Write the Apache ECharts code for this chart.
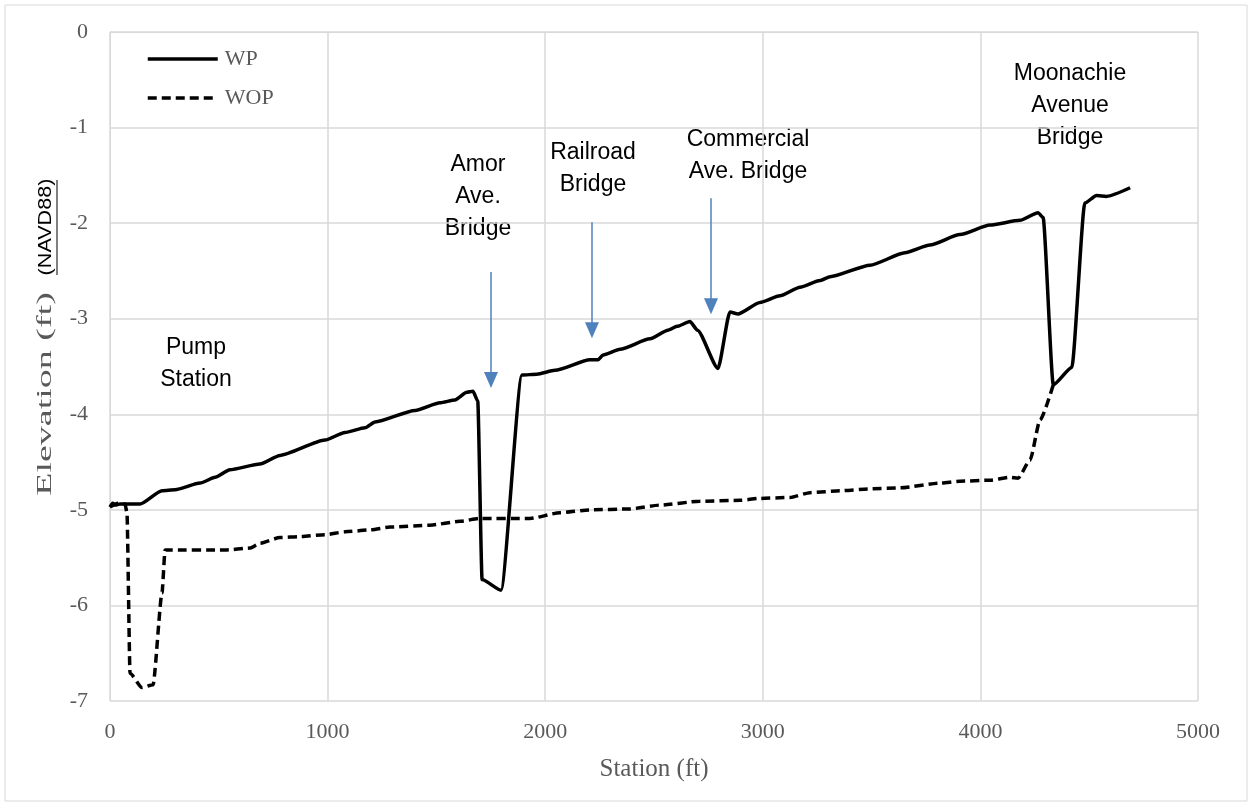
<!DOCTYPE html>
<html><head><meta charset="utf-8">
<script src="https://cdn.jsdelivr.net/npm/echarts@6/dist/echarts.min.js"></script>
<style>html,body{margin:0;padding:0;background:#fff}#c{width:1252px;height:806px}</style>
</head><body><div id="c"></div>
<script>
const wpStation = [0,12,25,45,138,239,299,414,483,551,689,781,988,1080,1172,1218,1402,1517,1585,1640,1668,1690,1710,1797,1893,1962,2045,2206,2243,2266,2344,2482,2564,2606,2665,2700,2794,2849,2886,2987,3079,3171,3263,3309,3493,3653,3768,3906,4044,4182,4265,4288,4335,4420,4480,4534,4580,4688];
const wpElev    = [-4.97,-4.93,-4.95,-4.94,-4.94,-4.80,-4.79,-4.72,-4.66,-4.58,-4.52,-4.43,-4.27,-4.19,-4.14,-4.08,-3.96,-3.88,-3.85,-3.77,-3.76,-3.86,-5.73,-5.84,-3.59,-3.58,-3.54,-3.43,-3.43,-3.38,-3.32,-3.21,-3.12,-3.08,-3.03,-3.12,-3.52,-2.93,-2.95,-2.83,-2.76,-2.67,-2.60,-2.56,-2.44,-2.31,-2.23,-2.12,-2.02,-1.97,-1.89,-1.94,-3.69,-3.51,-1.79,-1.71,-1.72,-1.63];
const wopStation = [0,37,69,78,92,147,198,239,253,528,643,689,781,873,988,1080,1195,1287,1471,1608,1700,1930,2068,2206,2390,2528,2711,2895,2987,3125,3217,3355,3493,3631,3814,3906,4044,4136,4173,4228,4274,4335];
const wopElev    = [-4.97,-4.93,-4.94,-5.03,-6.71,-6.86,-6.83,-5.87,-5.42,-5.42,-5.40,-5.35,-5.29,-5.28,-5.26,-5.23,-5.21,-5.18,-5.16,-5.12,-5.09,-5.09,-5.03,-5.00,-4.99,-4.95,-4.91,-4.90,-4.88,-4.87,-4.82,-4.80,-4.78,-4.77,-4.72,-4.70,-4.69,-4.66,-4.67,-4.48,-4.06,-3.69];
const seriesNames = ['WP','WOP'];
const xTicks = {min:0,max:5000,interval:1000};
const yTicks = {min:-7,max:0,interval:1};
const arrows = [
  {x:1751, from:-2.51, to:-3.64},
  {x:2215, from:-1.99, to:-3.12},
  {x:2762, from:-1.74, to:-2.87}
];
const notes = [
  {text:'Pump\nStation', x:196, y:364},
  {text:'Amor\nAve.\nBridge', x:478, y:197},
  {text:'Railroad\nBridge', x:593, y:169},
  {text:'Commercial\nAve. Bridge', x:748, y:156},
  {text:'Moonachie\nAvenue\nBridge', x:1070, y:106}
];

const zip = (a,b)=>a.map((v,i)=>[v,b[i]]);
const chart = echarts.init(document.getElementById('c'));
const serif = '"Liberation Serif","Times New Roman",serif';
const sans = '"Liberation Sans",Arial,sans-serif';
const gridC = '#d9d9d9';
chart.setOption({
  animation:false,
  grid:{left:110,right:54,top:32,bottom:105,containLabel:false},
  legend:{
    orient:'vertical', left:141, top:43, itemWidth:70, itemHeight:2, itemGap:17,
    textStyle:{fontFamily:serif,fontSize:22,color:'#595959',padding:[0,0,0,2]},
    lineStyle:{width:3.5},
    data:seriesNames
  },
  xAxis:{type:'value',min:xTicks.min,max:xTicks.max,interval:xTicks.interval,
    name:'Station (ft)',nameLocation:'middle',nameGap:56,
    nameTextStyle:{fontFamily:serif,fontSize:25,color:'#595959'},
    axisLine:{show:true,lineStyle:{color:gridC,width:1}},axisTick:{show:false},
    axisLabel:{fontFamily:serif,fontSize:22,color:'#595959',margin:20,formatter:v=>String(v)},
    splitLine:{show:true,lineStyle:{color:gridC,width:1.5}}},
  yAxis:{type:'value',min:yTicks.min,max:yTicks.max,interval:yTicks.interval,
    axisLine:{show:true,lineStyle:{color:gridC,width:1}},axisTick:{show:false},
    axisLabel:{fontFamily:serif,fontSize:22,color:'#595959',margin:22,formatter:v=>String(v)},
    splitLine:{show:true,lineStyle:{color:gridC,width:1.5}}},
  series:[
    {name:seriesNames[0],type:'line',data:zip(wpStation,wpElev),showSymbol:false,symbol:'none',
     smooth:0.2,smoothMonotone:'x',lineStyle:{color:'#000',width:3.5},itemStyle:{color:'#000'},
     markLine:{silent:true,symbol:['none','triangle'],symbolSize:[14,16],
       lineStyle:{color:'#4f81bd',width:1.5,type:'solid'},label:{show:false},
       data:arrows.map(a=>[{coord:[a.x,a.from]},{coord:[a.x,a.to]}])}},
    {name:seriesNames[1],type:'line',data:zip(wopStation,wopElev),showSymbol:false,symbol:'none',
     smooth:0.2,smoothMonotone:'x',lineStyle:{color:'#000',width:3.5,type:[9,5]},itemStyle:{color:'#000'}}
  ],
  graphic:[
    ...notes.map(n=>({type:'text',x:n.x,y:n.y,style:{text:n.text,fontFamily:sans,fontSize:23,fill:'#000',
      align:'center',verticalAlign:'middle',lineHeight:32}})),
    {type:'text',x:46,y:394,rotation:Math.PI/2,scaleX:1.9,style:{
      text:'Elevation (ft)',align:'center',verticalAlign:'middle',fontFamily:serif,fontSize:20,fill:'#595959'}},
    {type:'text',x:46,y:227,rotation:Math.PI/2,scaleX:1.2,style:{
      text:'(NAVD88)',align:'center',verticalAlign:'middle',fontFamily:sans,fontSize:18,fill:'#000'}},
    {type:'line',shape:{x1:57,y1:180,x2:57,y2:275},style:{stroke:'#000',lineWidth:1}},
    {type:'rect',shape:{x:5,y:5,width:1242,height:796},style:{fill:'none',stroke:'#d9d9d9',lineWidth:1},silent:true}
  ]
});
</script></body></html>
